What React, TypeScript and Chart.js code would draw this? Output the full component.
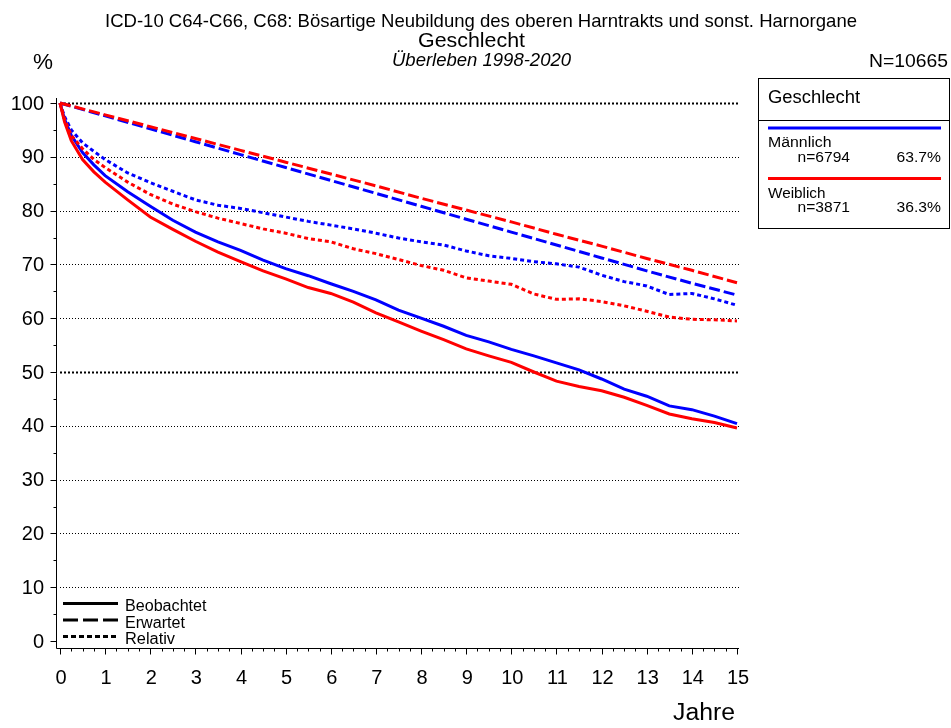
import React, { useEffect, useRef } from "react";
import { Chart, registerables } from "chart.js";

Chart.register(...registerables);

const years = [0, 0.1, 0.25, 0.5, 0.75, 1, 1.5, 2, 2.5, 3, 3.5, 4, 4.5, 5, 5.5, 6, 6.5, 7, 7.5, 8, 8.5, 9, 9.5, 10, 10.5, 11, 11.5, 12, 12.5, 13, 13.5, 14, 14.5, 15];

const maleObserved = [100, 97, 94, 90.8, 88.5, 86.5, 83.5, 80.8, 78.2, 76, 74.2, 72.6, 70.8, 69.2, 67.9, 66.4, 65, 63.4, 61.5, 60, 58.5, 56.8, 55.6, 54.2, 53, 51.7, 50.4, 48.7, 46.8, 45.5, 43.7, 43, 41.8, 40.4];
const femaleObserved = [100, 96.5, 93, 89.5, 87.2, 85.3, 82, 78.8, 76.5, 74.3, 72.3, 70.5, 68.8, 67.3, 65.7, 64.6, 63, 61, 59.3, 57.6, 56, 54.3, 53, 51.8, 50, 48.3, 47.3, 46.5, 45.3, 43.8, 42.2, 41.3, 40.6, 39.6];
const maleRelative = [100, 97.5, 95, 92.6, 91, 89.5, 87, 85.2, 83.6, 82, 81, 80.4, 79.6, 78.8, 78, 77.3, 76.6, 75.8, 74.9, 74.2, 73.6, 72.5, 71.6, 71.1, 70.5, 70.1, 69.5, 68, 66.8, 66, 64.4, 64.6, 63.6, 62.4];
const femaleRelative = [100, 97, 94, 91.5, 89.5, 88, 85.3, 83, 81.2, 79.8, 78.6, 77.6, 76.6, 75.8, 74.8, 74.2, 72.9, 72, 70.9, 69.8, 68.9, 67.5, 66.9, 66.3, 64.5, 63.5, 63.6, 63.1, 62.3, 61.3, 60.2, 59.8, 59.7, 59.5];

const expYears = [0, 1, 2, 3, 4, 5, 6, 7, 8, 9, 10, 11, 12, 13, 14, 15];
const maleExpected = [100, 97.6, 95.2, 92.8, 90.4, 88.0, 85.6, 83.2, 80.8, 78.4, 76.0, 73.6, 71.2, 68.8, 66.5, 64.3];
const femaleExpected = [100, 97.8, 95.6, 93.4, 91.2, 89.0, 86.8, 84.6, 82.3, 80.1, 77.9, 75.6, 73.4, 71.1, 68.9, 66.6];

const yTicks = [0, 10, 20, 30, 40, 50, 60, 70, 80, 90, 100];
const xTicks = [0, 1, 2, 3, 4, 5, 6, 7, 8, 9, 10, 11, 12, 13, 14, 15];

const titleLines = ["ICD-10 C64-C66, C68: Bösartige Neubildung des oberen Harntrakts und sonst. Harnorgane", "Geschlecht", "Überleben 1998-2020"];
const groups = [
  { name: "Männlich", n: "n=6794", pct: "63.7%", color: "#0000ff" },
  { name: "Weiblich", n: "n=3871", pct: "36.3%", color: "#ff0000" },
];
const styleLegend = ["Beobachtet", "Erwartet", "Relativ"];

const BLUE = "#0000ff";
const RED = "#ff0000";
const FONT = "'Liberation Sans', Arial, sans-serif";
const DASH = [11, 4];
const DOT = [4, 3];

const pts = (xs: number[], ys: number[]) => xs.map((x, i) => ({ x, y: ys[i] }));

function fitText(ctx: CanvasRenderingContext2D, text: string, x: number, y: number, font: string, targetW: number, align: CanvasTextAlign) {
  ctx.save();
  ctx.font = font;
  ctx.textBaseline = "middle";
  ctx.textAlign = align;
  const w = ctx.measureText(text).width;
  const s = targetW / w;
  ctx.translate(x, y);
  ctx.scale(s, 1);
  ctx.fillText(text, 0, 0);
  ctx.restore();
}

const decorPlugin = {
  id: "decor",
  beforeDatasetsDraw(chart: any) {
    const ctx = chart.ctx;
    const xs = chart.scales.x;
    const ys = chart.scales.y;
    ctx.save();
    yTicks.forEach((v) => {
      if (v === 0) return;
      const y = Math.round(ys.getPixelForValue(v)) + 0.5;
      const bold = v === 50 || v === 100;
      ctx.strokeStyle = "#000";
      ctx.lineWidth = bold ? 2 : 1;
      ctx.setLineDash(bold ? [2, 2] : [1, 2]);
      ctx.beginPath();
      ctx.moveTo(xs.getPixelForValue(0), y);
      ctx.lineTo(xs.getPixelForValue(15) + 2, y);
      ctx.stroke();
    });
    ctx.restore();
  },
  afterDraw(chart: any) {
    const ctx = chart.ctx;
    const xs = chart.scales.x;
    const ys = chart.scales.y;
    ctx.save();
    ctx.setLineDash([]);
    ctx.strokeStyle = "#000";
    ctx.fillStyle = "#000";
    const axX = 56.5;
    const axY = 648.5;
    ctx.lineWidth = 1;
    ctx.beginPath();
    ctx.moveTo(axX, ys.getPixelForValue(100) - 5);
    ctx.lineTo(axX, axY);
    ctx.lineTo(xs.getPixelForValue(15) + 2, axY);
    ctx.stroke();
    for (let v = 0; v <= 100; v += 5) {
      const y = Math.round(ys.getPixelForValue(v)) + 0.5;
      const major = v % 10 === 0;
      ctx.beginPath();
      ctx.moveTo(axX - (major ? 6 : 3), y);
      ctx.lineTo(axX, y);
      ctx.stroke();
    }
    ctx.font = `20px ${FONT}`;
    ctx.textAlign = "right";
    ctx.textBaseline = "middle";
    yTicks.forEach((v) => ctx.fillText(String(v), 44, ys.getPixelForValue(v) + 1));
    for (let q = 0; q <= 60; q++) {
      const t = q / 4;
      const x = Math.round(xs.getPixelForValue(t)) + 0.5;
      const major = q % 4 === 0;
      ctx.beginPath();
      ctx.moveTo(x, axY);
      ctx.lineTo(x, axY + (major ? 6 : 3));
      ctx.stroke();
    }
    ctx.textAlign = "center";
    xTicks.forEach((t) => ctx.fillText(String(t), xs.getPixelForValue(t) + 1, 678));
    fitText(ctx, "Jahre", 704, 714, `23px ${FONT}`, 62, "center");
    // titles
    fitText(ctx, titleLines[0], 481, 22, `18.5px ${FONT}`, 752, "center");
    fitText(ctx, titleLines[1], 471.5, 41, `20px ${FONT}`, 107, "center");
    fitText(ctx, titleLines[2], 481.5, 60.5, `italic 18.5px ${FONT}`, 179, "center");
    fitText(ctx, "%", 43, 63, `22px ${FONT}`, 20, "center");
    fitText(ctx, "N=10665", 948, 61.5, `19px ${FONT}`, 79, "right");
    // group legend box
    ctx.lineWidth = 1;
    ctx.strokeRect(758.5, 78.5, 191, 150);
    ctx.beginPath();
    ctx.moveTo(758.5, 120.5);
    ctx.lineTo(949.5, 120.5);
    ctx.stroke();
    fitText(ctx, "Geschlecht", 768, 98, `18px ${FONT}`, 92, "left");
    groups.forEach((g, i) => {
      const base = 128 + i * 50.5;
      ctx.strokeStyle = g.color;
      ctx.lineWidth = 3;
      ctx.beginPath();
      ctx.moveTo(768, base);
      ctx.lineTo(941, base);
      ctx.stroke();
      ctx.fillStyle = "#000";
      fitText(ctx, g.name, 768, base + 15, `15.5px ${FONT}`, i === 0 ? 63.5 : 57.5, "left");
      fitText(ctx, g.n, 797.5, base + 29.5, `15.5px ${FONT}`, 52.5, "left");
      fitText(ctx, g.pct, 941, base + 29.5, `15.5px ${FONT}`, 44.5, "right");
    });
    // line style legend
    const dashes = [[], [15, 5], [5, 3]];
    const widths = [81.5, 60, 50];
    styleLegend.forEach((label, i) => {
      const y = 603.5 + i * 16.5;
      ctx.strokeStyle = "#000";
      ctx.lineWidth = 3;
      ctx.setLineDash(dashes[i]);
      ctx.beginPath();
      ctx.moveTo(63, y);
      ctx.lineTo(118, y);
      ctx.stroke();
      ctx.setLineDash([]);
      ctx.fillStyle = "#000";
      fitText(ctx, label, 125, y + 3.5, `16px ${FONT}`, widths[i], "left");
    });
    ctx.restore();
  },
};

export default function App() {
  const ref = useRef<HTMLCanvasElement | null>(null);
  useEffect(() => {
    if (!ref.current) return;
    const mk = (label: string, xsArr: number[], ysArr: number[], color: string, dash: number[]) => ({
      label,
      data: pts(xsArr, ysArr),
      borderColor: color,
      backgroundColor: color,
      borderWidth: 3,
      borderDash: dash,
      pointRadius: 0,
      tension: 0,
      fill: false,
      clip: 5,
    });
    const chart = new Chart(ref.current, {
      type: "line",
      data: {
        datasets: [
          mk("Weiblich Beobachtet", years, femaleObserved, RED, []),
          mk("Weiblich Erwartet", expYears, femaleExpected, RED, DASH),
          mk("Weiblich Relativ", years, femaleRelative, RED, DOT),
          mk("Männlich Beobachtet", years, maleObserved, BLUE, []),
          mk("Männlich Erwartet", expYears, maleExpected, BLUE, DASH),
          mk("Männlich Relativ", years, maleRelative, BLUE, DOT),
        ] as any,
      },
      options: {
        animation: false,
        responsive: false,
        devicePixelRatio: 1,
        layout: { padding: { left: 60, right: 214, top: 103, bottom: 87 } },
        scales: {
          x: { type: "linear", min: 0, max: 15, display: false },
          y: { type: "linear", min: 0, max: 100, display: false },
        },
        plugins: { legend: { display: false }, tooltip: { enabled: false } },
      } as any,
      plugins: [decorPlugin],
    });
    return () => chart.destroy();
  }, []);
  return (
    <div style={{ position: "fixed", left: 0, top: 0, width: 951, height: 728, background: "#fff" }}>
      <canvas ref={ref} width={951} height={728} style={{ display: "block", width: 951, height: 728 }} />
    </div>
  );
}
